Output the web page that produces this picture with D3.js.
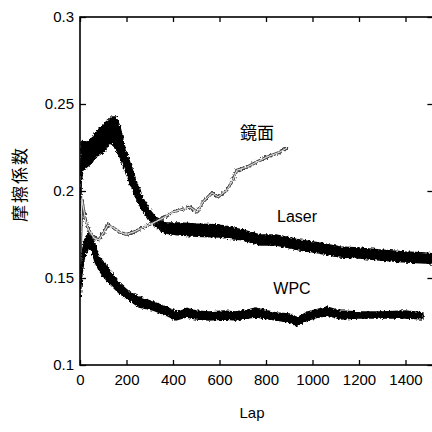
<!DOCTYPE html>
<html><head><meta charset="utf-8">
<script src="https://cdn.jsdelivr.net/npm/d3@7"></script>
<style>body{margin:0;background:#fff}</style>
</head><body>
<script>
const xTicks = [0, 200, 400, 600, 800, 1000, 1200, 1400];
const yTicks = [0.1, 0.15, 0.2, 0.25, 0.3];
const yTickLabels = ["0.1", "0.15", "0.2", "0.25", "0.3"];

const laserLap = [0,5,12,30,50,65,85,107,125,138,155,172,194,215,240,267,300,327,365,430,500,600,700,774,843,946,1030,1118,1200,1290,1400,1484,1520];
const laserLo  = [0.150,0.205,0.212,0.214,0.216,0.2195,0.221,0.2236,0.227,0.2276,0.2236,0.2195,0.2121,0.2046,0.1966,0.1891,0.1833,0.1793,0.1759,0.1747,0.1740,0.1736,0.1718,0.1690,0.1690,0.1661,0.1644,0.1621,0.1615,0.1603,0.1592,0.1586,0.1580];
const laserHi  = [0.162,0.228,0.229,0.228,0.230,0.2333,0.236,0.2391,0.241,0.2425,0.2425,0.2368,0.2236,0.2161,0.2063,0.1966,0.1891,0.1845,0.1816,0.1816,0.1810,0.1805,0.1776,0.1747,0.1747,0.1718,0.1701,0.1678,0.1672,0.1661,0.1649,0.1644,0.1638];

const wpcLap = [0,8,20,38,50,65,82,100,125,168,211,254,314,370,413,456,500,555,620,671,720,757,843,900,933,980,1062,1120,1200,1300,1400,1475];
const wpcLo  = [0.138,0.1517,0.163,0.1672,0.1661,0.159,0.1546,0.1511,0.1471,0.1414,0.1374,0.1333,0.1316,0.1287,0.1259,0.1276,0.1264,0.1259,0.1264,0.1259,0.1270,0.1276,0.1259,0.1247,0.1224,0.1259,0.1287,0.1264,0.1270,0.1270,0.1270,0.1264];
const wpcHi  = [0.146,0.1632,0.1718,0.1759,0.1747,0.169,0.1621,0.1592,0.1546,0.1471,0.1420,0.1391,0.1362,0.1333,0.1305,0.1328,0.1310,0.1305,0.1310,0.1305,0.1316,0.1328,0.1299,0.1293,0.1270,0.1305,0.1333,0.1310,0.1305,0.1305,0.1310,0.1299];

const mirrorLap = [0,8,15,26,38,60,82,103,120,142,168,198,232,271,314,357,400,430,473,503,529,568,594,632,658,675,718,761,804,860,890];
const mirrorVal = [0.158,0.196,0.190,0.1816,0.1776,0.173,0.172,0.1765,0.1805,0.179,0.1765,0.175,0.1765,0.179,0.1816,0.1845,0.188,0.189,0.1908,0.188,0.1937,0.1989,0.1966,0.2006,0.2063,0.212,0.2138,0.2167,0.2195,0.2224,0.2247];

const W = 432, H = 432;
const x = d3.scaleLinear().domain([0, 1400]).range([80, 405.5]);
const y = d3.scaleLinear().domain([0.1, 0.3]).range([365, 17]);
const xEnd = 1520;

const svg = d3.select("body").append("svg").attr("width", W).attr("height", H)
  .style("font-family", "'Liberation Sans', Arial, sans-serif");

const defs = svg.append("defs");
const f = defs.append("filter").attr("id", "rough").attr("x", "-5%").attr("y", "-20%").attr("width", "110%").attr("height", "140%");
f.append("feTurbulence").attr("type", "fractalNoise").attr("baseFrequency", "0.45").attr("numOctaves", 2).attr("seed", 3).attr("result", "n");
f.append("feDisplacementMap").attr("in", "SourceGraphic").attr("in2", "n").attr("scale", 4).attr("xChannelSelector", "R").attr("yChannelSelector", "G");

const clip = defs.append("clipPath").attr("id", "plot");
clip.append("rect").attr("x", x(0)).attr("y", y(0.3)).attr("width", x(xEnd) - x(0)).attr("height", y(0.1) - y(0.3));

const g = svg.append("g").attr("clip-path", "url(#plot)");

const band = (laps, lo, hi) => d3.area()
  .x((d, i) => x(laps[i])).y0((d, i) => y(lo[i])).y1((d, i) => y(hi[i]))(laps);

g.append("path").attr("d", band(laserLap, laserLo, laserHi))
  .attr("fill", "#000").attr("stroke", "#000").attr("stroke-width", 1.5).attr("filter", "url(#rough)");
g.append("path").attr("d", band(wpcLap, wpcLo, wpcHi))
  .attr("fill", "#000").attr("stroke", "#000").attr("stroke-width", 1.5).attr("filter", "url(#rough)");

const mline = d3.line().x((d, i) => x(mirrorLap[i])).y((d, i) => y(mirrorVal[i]))(mirrorLap);
g.append("path").attr("d", mline).attr("fill", "none").attr("stroke", "#444").attr("stroke-width", 3).attr("filter", "url(#rough)");
g.append("path").attr("d", mline).attr("fill", "none").attr("stroke", "#ddd").attr("stroke-width", 1.1);

// frame
svg.append("rect").attr("x", x(0)).attr("y", y(0.3)).attr("width", x(xEnd) - x(0)).attr("height", y(0.1) - y(0.3))
  .attr("fill", "none").attr("stroke", "#000").attr("stroke-width", 1.6);

// axes
const ax = svg.append("g").attr("transform", `translate(0,${y(0.1)})`)
  .call(d3.axisBottom(x).tickValues(xTicks).tickSize(-5).tickPadding(9).tickFormat(d3.format("d")));
const ay = svg.append("g").attr("transform", `translate(${x(0)},0)`)
  .call(d3.axisLeft(y).tickValues(yTicks).tickSize(-6).tickPadding(6).tickFormat((d, i) => yTickLabels[i]));
svg.append("g").attr("transform", `translate(0,${y(0.3)})`)
  .call(d3.axisTop(x).tickValues(xTicks).tickSize(-5).tickFormat(""));
svg.append("g").attr("transform", `translate(${x(xEnd)},0)`)
  .call(d3.axisRight(y).tickValues(yTicks).tickSize(-6).tickFormat(""));
svg.selectAll(".domain").remove();
svg.selectAll(".tick line").attr("stroke", "#000").attr("stroke-width", 1.3);
svg.selectAll(".tick text").attr("font-size", 15).attr("fill", "#000").attr("font-family", "'Liberation Sans', Arial, sans-serif");

// labels
svg.append("text").attr("x", x(740)).attr("y", 418).attr("text-anchor", "middle")
  .attr("font-size", 15).text("Lap");
svg.append("text").attr("transform", `translate(26,184) rotate(-90)`).attr("text-anchor", "middle")
  .attr("font-size", 17).attr("letter-spacing", 2).attr("font-family", "'Noto Sans CJK JP', sans-serif").text("摩擦係数");
svg.append("text").attr("x", 257).attr("y", 139).attr("text-anchor", "middle")
  .attr("font-size", 17).attr("font-family", "'Noto Sans CJK JP', sans-serif").text("鏡面");
svg.append("text").attr("x", 297).attr("y", 222).attr("text-anchor", "middle")
  .attr("font-size", 16).text("Laser");
svg.append("text").attr("x", 292).attr("y", 294).attr("text-anchor", "middle")
  .attr("font-size", 16).text("WPC");
</script>
</body></html>
